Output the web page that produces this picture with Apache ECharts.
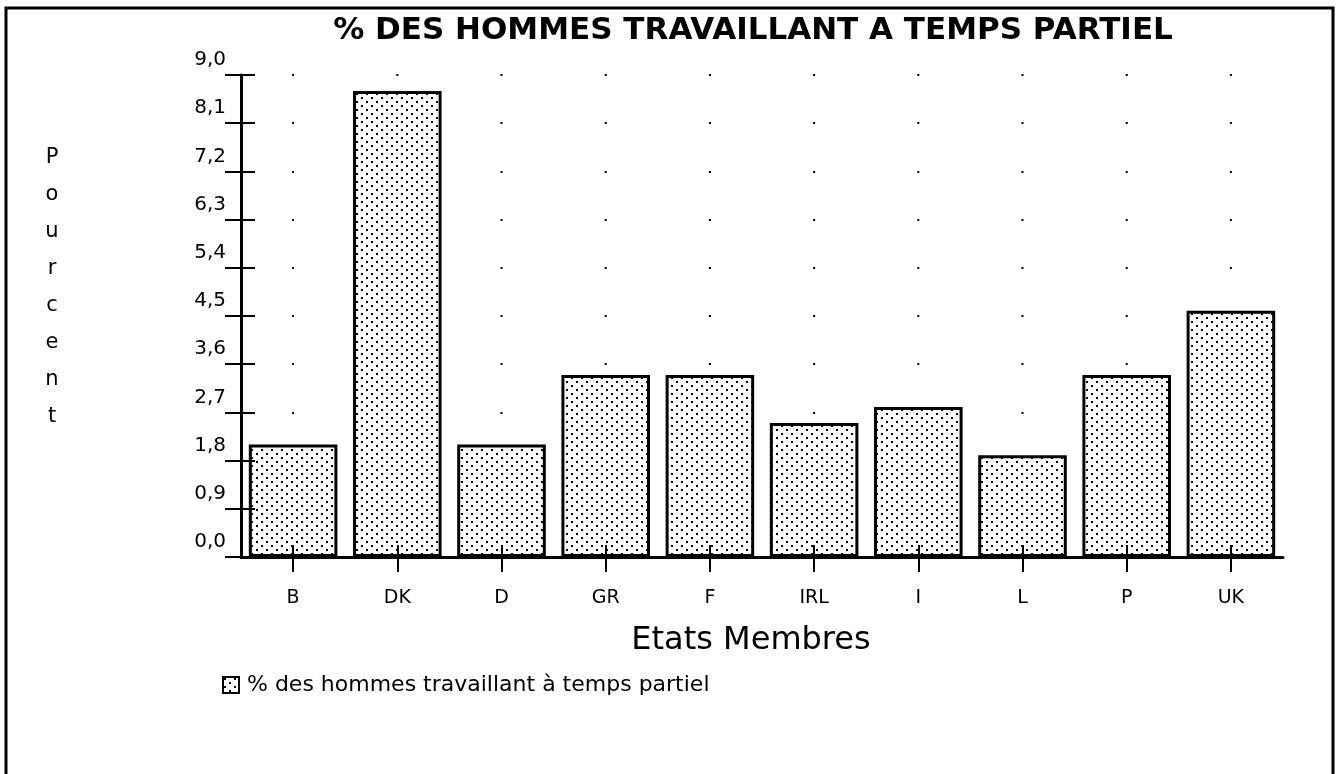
<!DOCTYPE html>
<html>
<head>
<meta charset="utf-8">
<script src="https://cdn.jsdelivr.net/npm/echarts@6/dist/echarts.min.js"></script>
<style>
    html,body{margin:0;padding:0;background:#fff;}
    #partTime{width:1343px;height:774px;}
</style>
</head>
<body>
<div id="partTime"></div>
<script>
/*données*/
let categories = ["B","DK","D","GR","F","IRL","I","L","P","UK"];
let partTimeMen = [2.1,8.7,2.1,3.4,3.4,2.5,2.8,1.9,3.4,4.6];
let yMin = 0, yMax = 9, yStep = 0.9;
let seriesName = "% des hommes travaillant à temps partiel";
let yTitle = ["P","o","u","r","c","e","n","t"];

let font = "DejaVu Sans";
let gridLeft = 241, gridRight = 60, gridTop = 75, gridBottom = 217;
let catW = (1343 - gridLeft - gridRight) / categories.length;

//motif pointillé des barres
function dotPattern(){
    let c = document.createElement("canvas");
    c.width = 10; c.height = 8;
    let ctx = c.getContext("2d");
    ctx.fillStyle = "#fff";
    ctx.fillRect(0,0,10,8);
    ctx.fillStyle = "#000";
    ctx.fillRect(1,1,2,2);
    ctx.fillRect(6,5,2,2);
    return c;
}
let pattern = {image: dotPattern(), repeat: "repeat"};

let fmt = v => v.toFixed(1).replace(".", ",");

let chart = echarts.init(document.getElementById("partTime"));
let option = {
    animation: false,
    backgroundColor: "#fff",
    grid: {left: gridLeft, right: gridRight, top: gridTop, bottom: gridBottom, containLabel: false},
    legend: {
        data: [seriesName],
        left: 217,
        top: 669,
        icon: "rect",
        itemWidth: 16,
        itemHeight: 16,
        itemStyle: {borderColor: "#000", borderWidth: 2},
        textStyle: {fontFamily: font, fontSize: 22, color: "#000", padding: [0,0,0,3]}
    },
    xAxis: [{
        type: "category",
        position: "bottom",
        data: categories,
        name: "Etats Membres",
        nameLocation: "middle",
        nameGap: 68,
        nameTextStyle: {fontFamily: font, fontSize: 32, color: "#000", padding: [0,22,0,0]},
        axisLine: {show: true, lineStyle: {color: "#000", width: 3}},
        axisTick: {show: true, alignWithLabel: true, inside: false, length: 15, lineStyle: {color: "#000", width: 2}},
        axisLabel: {margin: 32, fontFamily: font, fontSize: 19, color: "#000"},
        splitLine: {show: false}
    },{
        //petits traits vers le haut, par-dessus les barres
        type: "category",
        position: "bottom",
        data: categories,
        z: 5,
        axisLine: {show: false},
        axisTick: {show: true, alignWithLabel: true, inside: true, length: 12, lineStyle: {color: "#000", width: 2}},
        axisLabel: {show: false},
        splitLine: {show: false}
    }],
    yAxis: [{
        type: "value",
        position: "left",
        min: yMin,
        max: yMax,
        interval: yStep,
        axisLine: {show: true, lineStyle: {color: "#000", width: 3}},
        axisTick: {show: true, inside: false, length: 16, lineStyle: {color: "#000", width: 2}},
        axisLabel: {
            formatter: fmt,
            margin: 15,
            fontFamily: font,
            fontSize: 20,
            color: "#000",
            verticalAlign: "bottom",
            lineHeight: 20,
            padding: [0,0,5,0]
        },
        //grille en points, au centre de chaque catégorie
        splitLine: {
            show: true,
            lineStyle: {color: "#000", width: 2, type: [2, catW - 2], dashOffset: catW / 2 + 1}
        }
    },{
        type: "value",
        position: "left",
        min: yMin,
        max: yMax,
        interval: yStep,
        z: 5,
        axisLine: {show: false},
        axisTick: {show: true, inside: true, length: 14, lineStyle: {color: "#000", width: 2}},
        axisLabel: {show: false},
        splitLine: {show: false}
    }],
    series: [{
        name: seriesName,
        type: "bar",
        xAxisIndex: 0,
        yAxisIndex: 0,
        barCategoryGap: "15%",
        itemStyle: {color: pattern, borderColor: "#000", borderWidth: 3},
        data: partTimeMen
    }],
    graphic: [{
        type: "rect",
        shape: {x: 6, y: 8, width: 1327, height: 800},
        style: {fill: "none", stroke: "#000", lineWidth: 3},
        silent: true
    },{
        type: "text",
        x: 753,
        y: 31,
        style: {
            text: "% DES HOMMES TRAVAILLANT A TEMPS PARTIEL",
            fontFamily: font,
            fontWeight: "bold",
            fontSize: 31,
            fill: "#000",
            align: "center",
            verticalAlign: "middle"
        }
    },{
        type: "text",
        x: 52,
        y: 139,
        style: {
            text: yTitle.join("\n"),
            fontFamily: font,
            fontSize: 21,
            lineHeight: 37,
            fill: "#000",
            align: "center",
            verticalAlign: "top"
        }
    }]
};
chart.setOption(option);
</script>
</body>
</html>
